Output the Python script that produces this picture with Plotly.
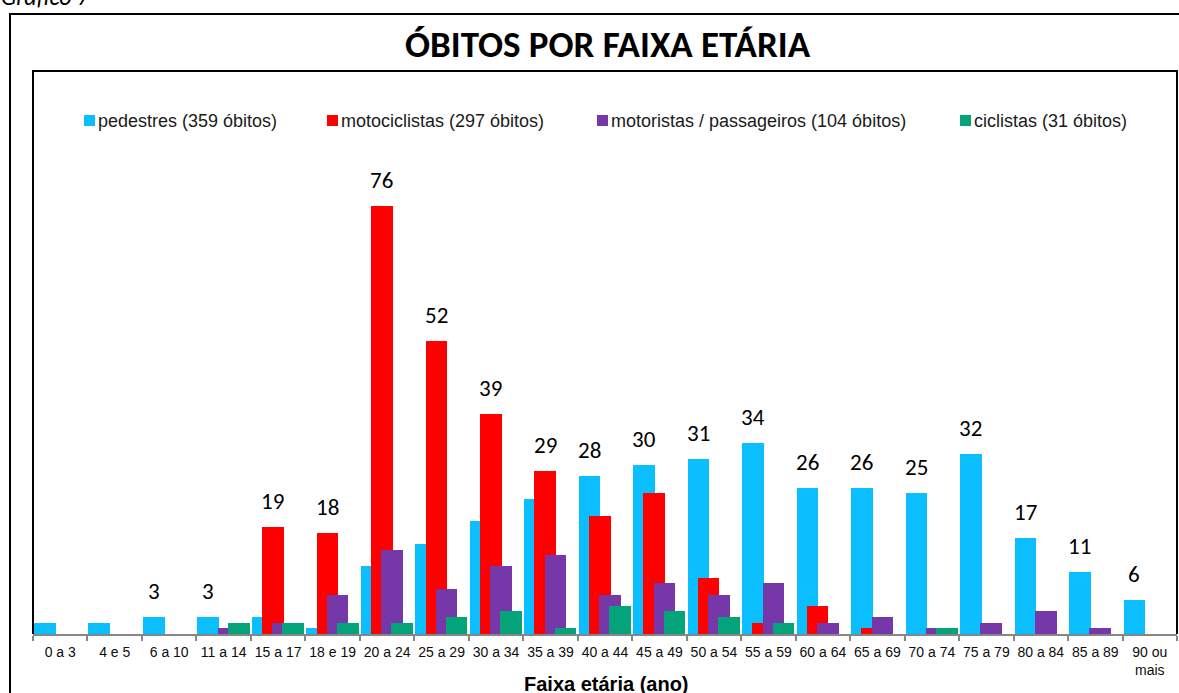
import plotly.graph_objects as go

# ---------------- data ----------------
categories = ["0 a 3", "4 e 5", "6 a 10", "11 a 14", "15 a 17", "18 e 19", "20 a 24",
              "25 a 29", "30 a 34", "35 a 39", "40 a 44", "45 a 49", "50 a 54", "55 a 59",
              "60 a 64", "65 a 69", "70 a 74", "75 a 79", "80 a 84", "85 a 89", "90 ou<br>mais"]
pedestres = [2, 2, 3, 3, 3, 1, 12, 16, 20, 24, 28, 30, 31, 34, 26, 26, 25, 32, 17, 11, 6]
motociclistas = [0, 0, 0, 0, 19, 18, 76, 52, 39, 29, 21, 25, 10, 2, 5, 1, 0, 0, 0, 0, 0]
motoristas = [0, 0, 0, 1, 2, 7, 15, 8, 12, 14, 7, 9, 7, 9, 2, 3, 1, 2, 4, 1, 0]
ciclistas = [0, 0, 0, 2, 2, 2, 2, 3, 4, 1, 5, 4, 3, 2, 0, 0, 1, 0, 0, 0, 0]
series_names = ["pedestres (359 óbitos)", "motociclistas (297 óbitos)",
                "motoristas / passageiros (104 óbitos)", "ciclistas (31 óbitos)"]
# which series carries the value label in each category (None = no label)
label_series = [None, None, 0, 0, 1, 1, 1, 1, 1, 1, 0, 0, 0, 0, 0, 0, 0, 0, 0, 0, 0]

title_text = "ÓBITOS POR FAIXA ETÁRIA"
xaxis_title = "Faixa etária (ano)"
caption = "Gráfico 7"

# ---------------- style ----------------
colors = ["#0ABEFF", "#FF0000", "#7638A8", "#05A37A"]
W, H = 1179, 693
ML, MR, MT, MB = 33, 2, 71, 59
PW, PH = W - ML - MR, H - MT - MB
BAR_W = 0.396
OFF0 = -0.482
STEP = 0.187
NUM_FONT = "Carlito, Calibri, Lato, sans-serif"
ARIAL = "Liberation Sans, Arial, sans-serif"


def px_x(px):
    return (px - ML) / PW


def px_y(py):
    return (H - MB - py) / PH


series = [pedestres, motociclistas, motoristas, ciclistas]
fig = go.Figure()
for k, (vals, name, col) in enumerate(zip(series, series_names, colors)):
    fig.add_trace(go.Bar(
        x=categories, y=vals, name=name,
        marker=dict(color=col, line=dict(width=0)),
        width=BAR_W, offset=OFF0 + k * STEP,
        showlegend=False, hoverinfo="x+y+name",
    ))

annotations = []
shapes = []

# value labels
for i, s in enumerate(label_series):
    if s is None:
        continue
    v = series[s][i]
    annotations.append(dict(
        x=i + OFF0 + s * STEP + BAR_W / 2, y=v, xref="x", yref="y",
        text=str(v), showarrow=False, yanchor="bottom", xanchor="center",
        yshift=10, font=dict(family=NUM_FONT, size=23, color="#000000"),
    ))

# legend (drawn manually to reproduce the original spacing)
legend_sq = [84, 327, 597, 960]
for k, x0 in enumerate(legend_sq):
    shapes.append(dict(
        type="rect", xref="paper", yref="paper",
        x0=px_x(x0), x1=px_x(x0 + 11), y0=px_y(126), y1=px_y(115),
        fillcolor=colors[k], line=dict(width=0), layer="above",
    ))
    annotations.append(dict(
        x=px_x(x0 + 12), y=px_y(120.5), xref="paper", yref="paper",
        text=series_names[k], showarrow=False, xanchor="left", yanchor="middle",
        font=dict(family=ARIAL, size=18, color="#1a1a1a"),
    ))

# title
annotations.append(dict(
    x=px_x(608), y=px_y(44), xref="paper", yref="paper", text="<b>" + title_text + "</b>",
    showarrow=False, xanchor="center", yanchor="middle",
    font=dict(family=NUM_FONT, size=37, color="#000000"),
))
# x-axis title
annotations.append(dict(
    x=px_x(606), y=px_y(684), xref="paper", yref="paper", text="<b>" + xaxis_title + "</b>",
    showarrow=False, xanchor="center", yanchor="middle",
    font=dict(family=ARIAL, size=20, color="#000000"),
))
# caption (cut off at the top in the original)
annotations.append(dict(
    x=px_x(-1), y=px_y(13), xref="paper", yref="paper", text="<i>" + caption + "</i>",
    showarrow=False, xanchor="left", yanchor="bottom",
    font=dict(family=NUM_FONT, size=24, color="#000000"),
))

# outer frame
shapes.append(dict(
    type="rect", xref="paper", yref="paper",
    x0=px_x(10), x1=px_x(1190), y0=px_y(705), y1=px_y(14),
    line=dict(color="#000000", width=2), fillcolor="rgba(0,0,0,0)", layer="above",
))
# plot area border (left, top, right)
shapes.append(dict(
    type="path", xref="paper", yref="paper",
    path="M 0 0 L 0 1 L 1 1 L 1 0",
    line=dict(color="#000000", width=2), layer="above",
))

fig.update_layout(
    width=W, height=H,
    margin=dict(l=ML, r=MR, t=MT, b=MB),
    barmode="overlay",
    paper_bgcolor="white", plot_bgcolor="white",
    annotations=annotations, shapes=shapes,
    showlegend=False,
    bargap=0,
)
fig.update_xaxes(
    type="category", range=[-0.5, len(categories) - 0.5],
    showline=True, linecolor="#868686", linewidth=2,
    ticks="outside", tickson="boundaries", ticklen=5, tickcolor="#868686", tickwidth=1.5,
    showgrid=False, zeroline=False, tickangle=0, ticklabelstandoff=4,
    tickfont=dict(family=ARIAL, size=14, color="#0d0d0d"),
)
fig.update_yaxes(
    range=[0, 100], showticklabels=False, showgrid=False, zeroline=False,
    showline=False, ticks="",
)

fig.write_html(
    "out.html",
    config={"displayModeBar": False},
    post_script="document.body.style.margin='0';document.body.style.overflow='hidden';",
)
